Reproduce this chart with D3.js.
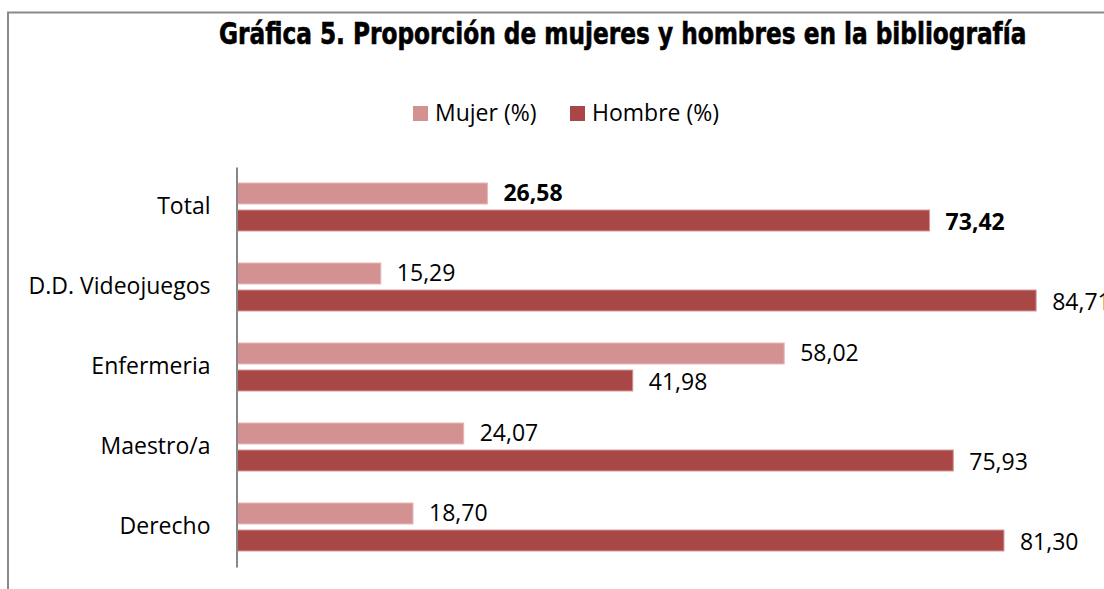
<!DOCTYPE html>
<html>
<head>
<meta charset="utf-8">
<script src="https://cdn.jsdelivr.net/npm/d3@7"></script>
<style>
  body { margin: 0; background: #fff; }
  svg { display: block; }
</style>
</head>
<body>
<svg id="drawing_region"></svg>
<script>
// categories from top to bottom
const categories = ['Total', 'D.D. Videojuegos', 'Enfermeria', 'Maestro/a', 'Derecho'];
const mujer = [26.58, 15.29, 58.02, 24.07, 18.70];
const hombre = [73.42, 84.71, 41.98, 75.93, 81.30];
const seriesNames = ['Mujer (%)', 'Hombre (%)'];

const width = 1104, height = 589;
const colors = { mujer: '#d39191', hombre: '#a94747' };
const labelFont = '"Open Sans", sans-serif';
const labelSize = '23px';

const svg = d3.select('#drawing_region')
    .attr('width', width)
    .attr('height', height);

// outer frame (only top and left edges visible)
svg.append('path')
    .attr('d', `M8,${height} L8,12.5 L${width},12.5`)
    .attr('fill', 'none')
    .attr('stroke', '#8a8a8a')
    .attr('stroke-width', 2);

// title: tall condensed look, squeezed horizontally to the reference width
const titleG = svg.append('g');
const title = titleG.append('text')
    .attr('x', 0)
    .attr('y', 0)
    .style('font-family', '"Liberation Sans Narrow", "DejaVu Sans Condensed", sans-serif')
    .style('font-weight', 'bold')
    .style('font-size', '31px')
    .style('stroke', '#000')
    .style('stroke-width', 0.6)
    .text('Gráfica 5. Proporción de mujeres y hombres en la bibliografía');
const natural = title.node().getComputedTextLength();
titleG.attr('transform', `translate(219, 44) scale(${(808 / natural).toFixed(4)}, 1)`);

// legend
const legendItems = [
    { name: seriesNames[0], color: colors.mujer, x: 413 },
    { name: seriesNames[1], color: colors.hombre, x: 570 }
];
const legend = svg.append('g');
legendItems.forEach(d => {
    legend.append('rect')
        .attr('x', d.x).attr('y', 106)
        .attr('width', 15).attr('height', 15)
        .attr('fill', d.color);
    legend.append('text')
        .attr('x', d.x + 22).attr('y', 113)
        .attr('dy', '0.35em')
        .style('font-family', labelFont)
        .style('font-size', labelSize)
        .style('fill', '#000')
        .text(d.name);
});

// scales
const x0 = 236.5;
const xscale = d3.scaleLinear()
    .domain([0, 100])
    .range([x0, x0 + 944]);
const yscale = d3.scaleBand()
    .domain(categories)
    .range([167, 567]);

const chart = svg.append('g');

const barH = 21, gap = 6;
const fmt = v => d3.format('.2f')(v).replace('.', ',');

const rows = categories.map((c, i) => ({ cat: c, mujer: mujer[i], hombre: hombre[i] }));
const mid = d => yscale(d.cat) + yscale.bandwidth() / 2;

// mujer bars
chart.selectAll('rect.mujer')
    .data(rows)
    .join('rect')
    .attr('class', 'mujer')
    .attr('x', xscale(0))
    .attr('y', d => mid(d) - barH - gap / 2)
    .attr('width', d => xscale(d.mujer) - xscale(0))
    .attr('height', barH)
    .attr('fill', colors.mujer)
    .attr('stroke', '#e6b9b9')
    .attr('stroke-width', 1);

// hombre bars
chart.selectAll('rect.hombre')
    .data(rows)
    .join('rect')
    .attr('class', 'hombre')
    .attr('x', xscale(0))
    .attr('y', d => mid(d) + gap / 2)
    .attr('width', d => xscale(d.hombre) - xscale(0))
    .attr('height', barH)
    .attr('fill', colors.hombre)
    .attr('stroke', '#d49a9a')
    .attr('stroke-width', 1);

// value labels
const addLabels = (key, dyOff) => {
    chart.selectAll('text.' + key)
        .data(rows)
        .join('text')
        .attr('class', key)
        .attr('x', d => xscale(d[key]) + 16)
        .attr('y', d => mid(d) + dyOff)
        .attr('dy', '0.35em')
        .style('font-family', labelFont)
        .style('font-size', labelSize)
        .style('font-weight', d => d.cat === 'Total' ? 'bold' : 'normal')
        .style('fill', '#000')
        .text(d => fmt(d[key]));
};
addLabels('mujer', -barH / 2 - gap / 2 - 1);
addLabels('hombre', barH / 2 + gap / 2 + 1);

// category axis
const yaxis = d3.axisLeft(yscale)
    .tickSize(0)
    .tickSizeOuter(0)
    .tickPadding(26);
const yaxis_group = chart.append('g')
    .attr('transform', `translate(${x0}, 0)`)
    .call(yaxis);
yaxis_group.select('.domain')
    .attr('stroke', '#868686')
    .attr('stroke-width', 2);
yaxis_group.selectAll('text')
    .style('font-family', labelFont)
    .style('font-size', labelSize)
    .style('fill', '#000');
</script>
</body>
</html>
